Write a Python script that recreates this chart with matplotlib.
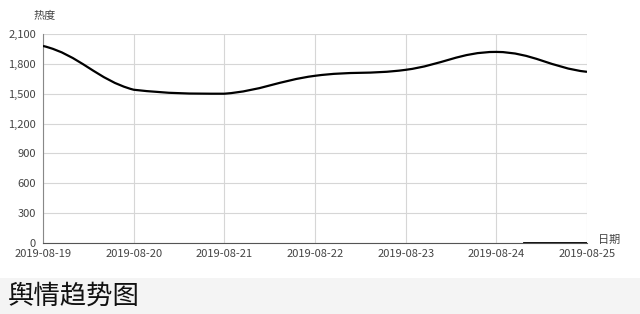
import matplotlib
matplotlib.use("Agg")
import matplotlib.pyplot as plt
import matplotlib.dates as mdates
from matplotlib.path import Path
from matplotlib.patches import PathPatch
import numpy as np
import datetime

plt.rcParams['font.family'] = ['Noto Sans CJK SC', 'DejaVu Sans']

dates = ["2019-08-19", "2019-08-20", "2019-08-21", "2019-08-22",
         "2019-08-23", "2019-08-24", "2019-08-25"]
heat = [1980, 1540, 1500, 1680, 1740, 1920, 1720]
y_ticks = [0, 300, 600, 900, 1200, 1500, 1800, 2100]
title = "舆情趋势图"


def smooth_path(x, y, k=0.4):
    # cubic bezier through the points, control points kept inside each segment
    verts = [(x[0], y[0])]
    codes = [Path.MOVETO]
    n = len(x)
    for i in range(n - 1):
        x0, y0 = x[max(i - 1, 0)], y[max(i - 1, 0)]
        x1, y1 = x[i], y[i]
        x2, y2 = x[i + 1], y[i + 1]
        x3, y3 = x[min(i + 2, n - 1)], y[min(i + 2, n - 1)]
        lo, hi = min(y1, y2), max(y1, y2)
        c1y = y1 + (y2 - y0) * k / 2
        c2y = y2 - (y3 - y1) * k / 2
        c1 = (x1 + (x2 - x1) * k, min(max(c1y, lo), hi))
        c2 = (x2 - (x2 - x1) * k, min(max(c2y, lo), hi))
        verts += [c1, c2, (x2, y2)]
        codes += [Path.CURVE4] * 3
    return Path(verts, codes)


x = mdates.date2num([datetime.datetime.strptime(d, "%Y-%m-%d") for d in dates])

fig = plt.figure(figsize=(6.4, 3.14), dpi=100)
fig.patch.set_facecolor("white")
# grey band with title at the bottom
band = fig.add_axes([0, 0, 1, 36 / 314])
band.set_facecolor("#f4f4f4")
band.set_xticks([])
band.set_yticks([])
for s in band.spines.values():
    s.set_visible(False)
band.text(0.012, 0.5, title, fontsize=19, color="#111111", va="center", ha="left")

ax = fig.add_axes([43 / 640, 1 - 243 / 314, 544 / 640, 209 / 314])
ax.add_patch(PathPatch(smooth_path(x, heat), facecolor="none", edgecolor="black", lw=1.6, zorder=3))
ax.plot([x[-2] + 0.3, x[-1]], [0, 0], color="black", lw=1.3, zorder=4)

ax.set_xlim(x[0], x[-1])
ax.set_ylim(0, 2100)
ax.set_xticks(x)
ax.set_xticklabels(dates)
ax.set_yticks(y_ticks)
ax.set_yticklabels(["{:,}".format(v) for v in y_ticks])
ax.grid(True, color="#d6d6d6", lw=0.8)
ax.set_axisbelow(True)
ax.tick_params(length=0, labelsize=8, colors="#444444", pad=5)
ax.tick_params(axis="x", pad=4)
for s in ["top", "right"]:
    ax.spines[s].set_visible(False)
ax.spines["left"].set_color("#888888")
ax.spines["bottom"].set_color("#555555")
ax.spines["left"].set_linewidth(0.8)
ax.spines["bottom"].set_linewidth(0.8)
ax.text(0.003, 1.06, "热度", transform=ax.transAxes, fontsize=8, color="#444444", ha="center", va="bottom")
ax.text(1.02, -0.01, "日期", transform=ax.transAxes, fontsize=8, color="#444444", ha="left", va="bottom")

fig.savefig("out.png", dpi=100, facecolor="white")
